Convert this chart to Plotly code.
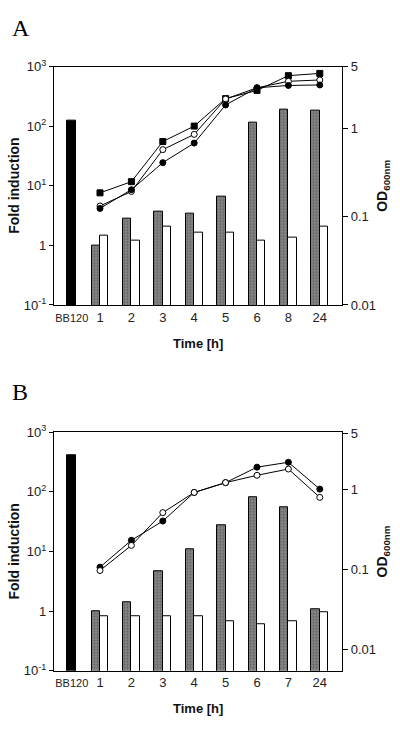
import plotly.graph_objects as go
import numpy as np

# ---------------- Data ----------------
cats_A = ["BB120", "1", "2", "3", "4", "5", "6", "8", "24"]
bb120_A = 125
gray_A = [1.0, 2.77, 3.66, 3.35, 6.7, 116, 188, 183]
white_A = [1.46, 1.22, 2.07, 1.65, 1.65, 1.19, 1.35, 2.07]
od_sq_A = [0.186, 0.249, 0.709, 1.06, 2.17, 2.69, 3.95, 4.19]
od_open_A = [0.132, 0.193, 0.574, 0.855, 2.15, 2.88, 3.41, 3.53]
od_fill_A = [0.124, 0.202, 0.409, 0.681, 1.84, 2.88, 3.06, 3.10]

cats_B = ["BB120", "1", "2", "3", "4", "5", "6", "7", "24"]
bb120_B = 413
gray_B = [1.0, 1.41, 4.75, 11.0, 27.7, 80.7, 55.3, 1.09]
white_B = [0.81, 0.81, 0.81, 0.81, 0.69, 0.60, 0.69, 0.96]
od_fill_B = [0.108, 0.234, 0.407, 0.927, 1.23, 1.92, 2.21, 1.02]
od_open_B = [0.098, 0.202, 0.519, 0.927, 1.23, 1.52, 1.82, 0.805]

left_ticks = [0.1, 1, 10, 100, 1000]
left_ticktext = ["10<sup>-1</sup>", "1", "10<sup>1</sup>", "10<sup>2</sup>", "10<sup>3</sup>"]
right_ticks = [0.01, 0.1, 1, 5]
right_ticktext = ["0.01", "0.1", "1", "5"]

# ---------------- Layout constants ----------------
W, H = 400, 732
FONT = "Liberation Sans, Arial, sans-serif"
SERIF = "Liberation Serif, Times New Roman, serif"
x_lo, x_hi = 54 / W, 342 / W
bw = 0.27
off = 0.135

fig = go.Figure()


def panel(n, cats, bb, gray, white, lines, ytop_px, ybot_px, r2range):
    xa = "x" if n == 1 else f"x{2*n-1}"
    ya = "y" if n == 1 else f"y{2*n-1}"
    ya2 = f"y{2*n}"
    xs = np.arange(1, len(gray) + 1, dtype=float)
    xbb = 0.1
    fig.add_trace(go.Bar(x=[xbb], y=[bb], width=[0.29],
                         marker=dict(color="black", line=dict(color="black", width=1)),
                         xaxis=xa, yaxis=ya, showlegend=False, hoverinfo="skip"))
    fig.add_trace(go.Bar(x=xs - off, y=gray, width=bw,
                         marker=dict(color="#7f7f7f", line=dict(color="black", width=1),
                                     pattern=dict(shape=".", fgcolor="#333333", bgcolor="#888888",
                                                  size=3, solidity=0.4)),
                         xaxis=xa, yaxis=ya, showlegend=False, hoverinfo="skip"))
    fig.add_trace(go.Bar(x=xs + off, y=white, width=bw,
                         marker=dict(color="white", line=dict(color="black", width=1)),
                         xaxis=xa, yaxis=ya, showlegend=False, hoverinfo="skip"))
    for vals, sym, fill, size in lines:
        fig.add_trace(go.Scatter(x=xs, y=vals, mode="lines+markers",
                                 line=dict(color="black", width=1),
                                 marker=dict(symbol=sym, size=size, color=fill,
                                             line=dict(color="black", width=1)),
                                 xaxis=xa, yaxis=ya2, showlegend=False, hoverinfo="skip"))
    yd = [1 - ybot_px / H, 1 - ytop_px / H]
    xkey = "xaxis" if n == 1 else f"xaxis{2*n-1}"
    ykey = "yaxis" if n == 1 else f"yaxis{2*n-1}"
    y2key = f"yaxis{2*n}"
    tickvals = [xbb] + list(xs)
    ticktext = ["<span style='font-size:11px'>BB120</span>"] + cats[1:]
    fig.layout[xkey] = dict(domain=[x_lo, x_hi], range=[-0.465, 8.707], anchor=ya,
                            showline=True, linecolor="black", linewidth=1.2, mirror=True,
                            showgrid=False, zeroline=False, ticks="", tickvals=tickvals, ticktext=ticktext,
                            tickfont=dict(family=FONT, size=13, color="#222"), fixedrange=True)
    fig.layout[ykey] = dict(domain=yd, type="log", range=[-1, 3], anchor=xa,
                            showline=True, linecolor="black", linewidth=1.2,
                            showgrid=False, zeroline=False, ticks="outside", ticklen=4, tickcolor="black",
                            tickvals=left_ticks, ticktext=left_ticktext,
                            tickfont=dict(family=FONT, size=13, color="#222"))
    fig.layout[y2key] = dict(domain=yd, type="log", range=r2range, anchor=xa, overlaying=ya, side="right",
                             showline=True, linecolor="black", linewidth=1.2,
                             showgrid=False, zeroline=False, ticks="outside", ticklen=5, tickcolor="black",
                             tickvals=right_ticks, ticktext=right_ticktext,
                             tickfont=dict(family=FONT, size=13, color="#222"))
    ymid = 1 - (ytop_px + ybot_px) / 2 / H
    fig.add_annotation(text="<b>Fold induction</b>", x=14 / W, y=ymid, xref="paper", yref="paper",
                       xanchor="center", yanchor="middle",
                       textangle=-90, showarrow=False, font=dict(family=FONT, size=14, color="#111"))
    fig.add_annotation(text="<b>OD<sub>600nm</sub></b>", x=383 / W, y=ymid, xref="paper", yref="paper",
                       xanchor="center", yanchor="middle",
                       textangle=-90, showarrow=False, font=dict(family=FONT, size=14, color="#111"))
    fig.add_annotation(text="<b>Time [h]</b>", x=(54 + 342) / 2 / W, y=1 - (ybot_px + 39) / H,
                       xanchor="center", yanchor="middle",
                       xref="paper", yref="paper", showarrow=False, font=dict(family=FONT, size=13, color="#111"))


panel(1, cats_A, bb120_A, gray_A, white_A,
      [(od_sq_A, "square", "black", 6), (od_open_A, "circle", "white", 6), (od_fill_A, "circle", "black", 6)],
      59, 303, [np.log10(0.01), np.log10(5)])
panel(2, cats_B, bb120_B, gray_B, white_B,
      [(od_fill_B, "circle", "black", 6), (od_open_B, "circle", "white", 6)],
      433.3, 677.5, [-2.262, 0.72])

fig.add_annotation(text="A", x=10 / W, y=1 - 19 / H, xref="paper", yref="paper",
                   xanchor="left", yanchor="middle",
                   showarrow=False, font=dict(family=SERIF, size=24, color="black"))
fig.add_annotation(text="B", x=10 / W, y=1 - 392 / H, xref="paper", yref="paper",
                   xanchor="left", yanchor="middle",
                   showarrow=False, font=dict(family=SERIF, size=24, color="black"))

fig.update_layout(width=W, height=H, margin=dict(l=0, r=0, t=0, b=0), barmode="overlay",
                  plot_bgcolor="white", paper_bgcolor="white", bargap=0, hovermode=False)
fig.write_html("out.html", config={"displayModeBar": False},
               post_script="document.body.style.margin='0';")
